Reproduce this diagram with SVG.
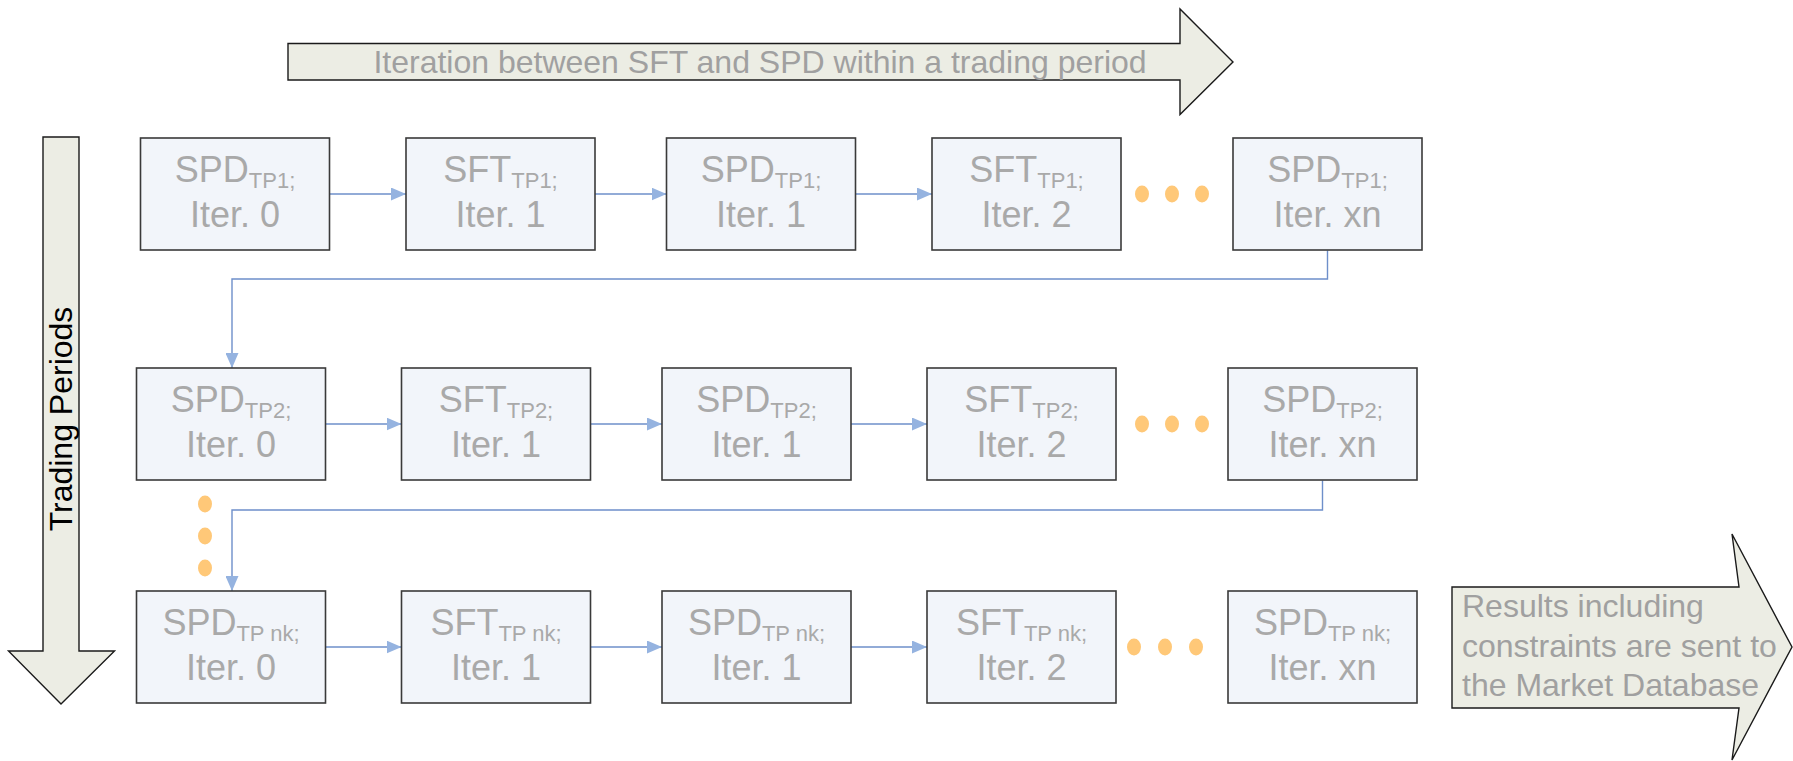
<svg xmlns="http://www.w3.org/2000/svg" width="1793" height="761" viewBox="0 0 1793 761">
<defs>
<style>
.box{fill:#f2f5fa;stroke:#3a3a3a;stroke-width:1.6}
.big{fill:#ecede4;stroke:#1a1a1a;stroke-width:1.4;stroke-linejoin:miter}
.t{font-family:"Liberation Sans",Arial,sans-serif;fill:#a9a9a9;text-anchor:middle}
.m{font-size:36px}
.s{font-size:22px}
.lbl{font-family:"Liberation Sans",Arial,sans-serif;font-size:32px;fill:#a0a0a0}
.con{fill:none;stroke:#6e8fca;stroke-width:1.4}
.dot{fill:#ffc878}
</style>
<marker id="ah" viewBox="0 0 15 13" refX="15" refY="6.5" markerWidth="15" markerHeight="13" markerUnits="userSpaceOnUse" orient="auto">
<path d="M0 0 L15 6.5 L0 13 Z" fill="#95b3e0"/>
</marker>
</defs>
<rect width="1793" height="761" fill="#ffffff"/>

<g id="arrow-iteration">
<polygon class="big" points="288,43.5 1180,43.5 1180,9 1233,62 1180,114.5 1180,80 288,80"/>
<text class="lbl" x="760" y="73" text-anchor="middle">Iteration between SFT and SPD within a trading period</text>
</g>

<g id="arrow-trading-periods">
<polygon class="big" points="43,137 79,137 79,651 114.5,651 61,704 8.5,651 43,651"/>
<text transform="translate(72,419) rotate(-90)" font-family="Liberation Sans, Arial, sans-serif" font-size="32" fill="#000000" text-anchor="middle">Trading Periods</text>
</g>

<g id="arrow-results">
<polygon class="big" points="1452,587 1739,587 1732,534 1792,647 1732,760 1739,708 1452,708"/>
<text class="lbl"><tspan x="1462" y="617">Results including</tspan><tspan x="1462" y="656.5">constraints are sent to</tspan><tspan x="1462" y="696">the Market Database</tspan></text>
</g>

<g id="connectors">
<line class="con" x1="329.5" y1="194" x2="406" y2="194" marker-end="url(#ah)"/>
<line class="con" x1="595" y1="194" x2="666.5" y2="194" marker-end="url(#ah)"/>
<line class="con" x1="855.5" y1="194" x2="932" y2="194" marker-end="url(#ah)"/>
<path class="con" d="M1327.5 250.5 V279 H232 V368" marker-end="url(#ah)"/>
<line class="con" x1="325.5" y1="424" x2="401.5" y2="424" marker-end="url(#ah)"/>
<line class="con" x1="590.5" y1="424" x2="662" y2="424" marker-end="url(#ah)"/>
<line class="con" x1="851" y1="424" x2="927" y2="424" marker-end="url(#ah)"/>
<path class="con" d="M1322.5 480.5 V510 H232 V591" marker-end="url(#ah)"/>
<line class="con" x1="325.5" y1="647" x2="401.5" y2="647" marker-end="url(#ah)"/>
<line class="con" x1="590.5" y1="647" x2="662" y2="647" marker-end="url(#ah)"/>
<line class="con" x1="851" y1="647" x2="927" y2="647" marker-end="url(#ah)"/>
</g>

<g id="dots">
<ellipse class="dot" cx="1142" cy="194" rx="7" ry="8.5"/>
<ellipse class="dot" cx="1172" cy="194" rx="7" ry="8.5"/>
<ellipse class="dot" cx="1202" cy="194" rx="7" ry="8.5"/>
<ellipse class="dot" cx="1142" cy="424" rx="7" ry="8.5"/>
<ellipse class="dot" cx="1172" cy="424" rx="7" ry="8.5"/>
<ellipse class="dot" cx="1202" cy="424" rx="7" ry="8.5"/>
<ellipse class="dot" cx="1134" cy="647" rx="7" ry="8.5"/>
<ellipse class="dot" cx="1165" cy="647" rx="7" ry="8.5"/>
<ellipse class="dot" cx="1196" cy="647" rx="7" ry="8.5"/>
<ellipse class="dot" cx="205" cy="504" rx="7" ry="8.5"/>
<ellipse class="dot" cx="205" cy="536" rx="7" ry="8.5"/>
<ellipse class="dot" cx="205" cy="568" rx="7" ry="8.5"/>
</g>

<g id="spd-tp1-iter0"><rect class="box" x="140.5" y="138" width="189" height="112"/><text class="t"><tspan class="m" x="235" y="182">SPD</tspan><tspan class="s" dy="6">TP1;</tspan><tspan class="m" x="235" y="227">Iter. 0</tspan></text></g>
<g id="sft-tp1-iter1"><rect class="box" x="406" y="138" width="189" height="112"/><text class="t"><tspan class="m" x="500.5" y="182">SFT</tspan><tspan class="s" dy="6">TP1;</tspan><tspan class="m" x="500.5" y="227">Iter. 1</tspan></text></g>
<g id="spd-tp1-iter1"><rect class="box" x="666.5" y="138" width="189" height="112"/><text class="t"><tspan class="m" x="761" y="182">SPD</tspan><tspan class="s" dy="6">TP1;</tspan><tspan class="m" x="761" y="227">Iter. 1</tspan></text></g>
<g id="sft-tp1-iter2"><rect class="box" x="932" y="138" width="189" height="112"/><text class="t"><tspan class="m" x="1026.5" y="182">SFT</tspan><tspan class="s" dy="6">TP1;</tspan><tspan class="m" x="1026.5" y="227">Iter. 2</tspan></text></g>
<g id="spd-tp1-iterxn"><rect class="box" x="1233" y="138" width="189" height="112"/><text class="t"><tspan class="m" x="1327.5" y="182">SPD</tspan><tspan class="s" dy="6">TP1;</tspan><tspan class="m" x="1327.5" y="227">Iter. xn</tspan></text></g>

<g id="spd-tp2-iter0"><rect class="box" x="136.5" y="368" width="189" height="112"/><text class="t"><tspan class="m" x="231" y="412">SPD</tspan><tspan class="s" dy="6">TP2;</tspan><tspan class="m" x="231" y="457">Iter. 0</tspan></text></g>
<g id="sft-tp2-iter1"><rect class="box" x="401.5" y="368" width="189" height="112"/><text class="t"><tspan class="m" x="496" y="412">SFT</tspan><tspan class="s" dy="6">TP2;</tspan><tspan class="m" x="496" y="457">Iter. 1</tspan></text></g>
<g id="spd-tp2-iter1"><rect class="box" x="662" y="368" width="189" height="112"/><text class="t"><tspan class="m" x="756.5" y="412">SPD</tspan><tspan class="s" dy="6">TP2;</tspan><tspan class="m" x="756.5" y="457">Iter. 1</tspan></text></g>
<g id="sft-tp2-iter2"><rect class="box" x="927" y="368" width="189" height="112"/><text class="t"><tspan class="m" x="1021.5" y="412">SFT</tspan><tspan class="s" dy="6">TP2;</tspan><tspan class="m" x="1021.5" y="457">Iter. 2</tspan></text></g>
<g id="spd-tp2-iterxn"><rect class="box" x="1228" y="368" width="189" height="112"/><text class="t"><tspan class="m" x="1322.5" y="412">SPD</tspan><tspan class="s" dy="6">TP2;</tspan><tspan class="m" x="1322.5" y="457">Iter. xn</tspan></text></g>

<g id="spd-tpnk-iter0"><rect class="box" x="136.5" y="591" width="189" height="112"/><text class="t"><tspan class="m" x="231" y="635">SPD</tspan><tspan class="s" dy="6">TP nk;</tspan><tspan class="m" x="231" y="680">Iter. 0</tspan></text></g>
<g id="sft-tpnk-iter1"><rect class="box" x="401.5" y="591" width="189" height="112"/><text class="t"><tspan class="m" x="496" y="635">SFT</tspan><tspan class="s" dy="6">TP nk;</tspan><tspan class="m" x="496" y="680">Iter. 1</tspan></text></g>
<g id="spd-tpnk-iter1"><rect class="box" x="662" y="591" width="189" height="112"/><text class="t"><tspan class="m" x="756.5" y="635">SPD</tspan><tspan class="s" dy="6">TP nk;</tspan><tspan class="m" x="756.5" y="680">Iter. 1</tspan></text></g>
<g id="sft-tpnk-iter2"><rect class="box" x="927" y="591" width="189" height="112"/><text class="t"><tspan class="m" x="1021.5" y="635">SFT</tspan><tspan class="s" dy="6">TP nk;</tspan><tspan class="m" x="1021.5" y="680">Iter. 2</tspan></text></g>
<g id="spd-tpnk-iterxn"><rect class="box" x="1228" y="591" width="189" height="112"/><text class="t"><tspan class="m" x="1322.5" y="635">SPD</tspan><tspan class="s" dy="6">TP nk;</tspan><tspan class="m" x="1322.5" y="680">Iter. xn</tspan></text></g>
</svg>
